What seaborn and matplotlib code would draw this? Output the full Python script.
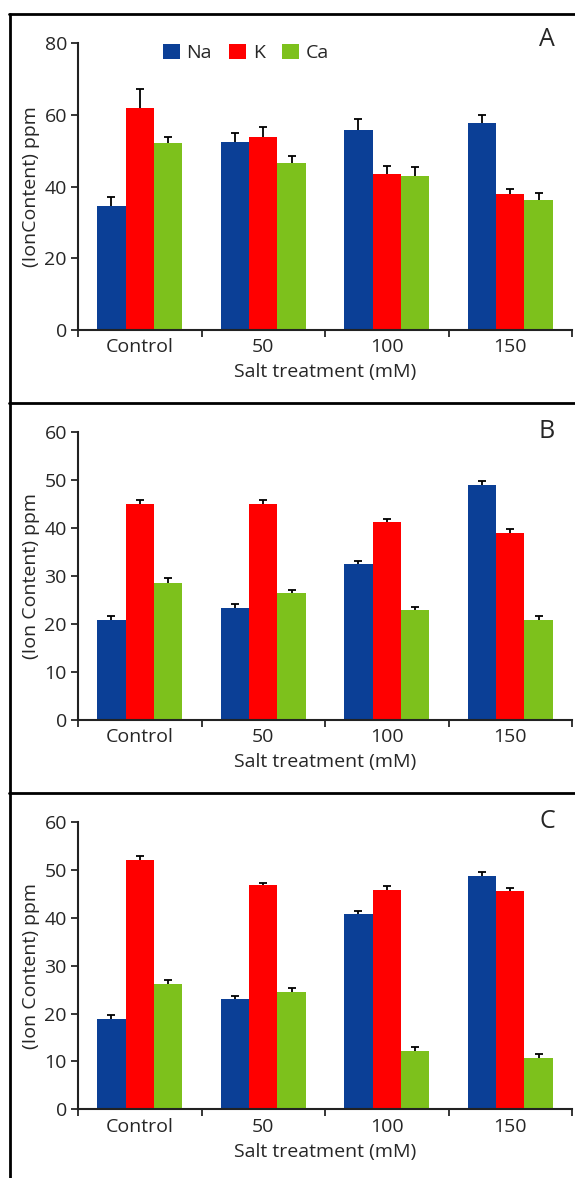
"""
Ion content (Na, K, Ca) under salt treatment, three panels A/B/C.
"""

import numpy as np
import pandas as pd
import matplotlib.pyplot as plt
from matplotlib.lines import Line2D
from matplotlib.patches import Patch
import seaborn as sns

treatments = ["Control", "50", "100", "150"]
ions = ["Na", "K", "Ca"]

# panel A
a_na = [34.7, 52.4, 55.7, 57.8]
a_k = [62.0, 53.8, 43.6, 37.8]
a_ca = [52.2, 46.5, 43.0, 36.3]
a_na_err = [2.5, 2.6, 3.0, 2.0]
a_k_err = [5.2, 2.9, 2.2, 1.4]
a_ca_err = [1.7, 2.1, 2.5, 2.0]

# panel B
b_na = [20.9, 23.4, 32.4, 49.0]
b_k = [44.9, 44.9, 41.2, 39.0]
b_ca = [28.6, 26.4, 22.9, 20.9]
b_na_err = [0.8, 0.7, 0.7, 0.7]
b_k_err = [0.9, 0.8, 0.7, 0.7]
b_ca_err = [0.9, 0.6, 0.6, 0.7]

# panel C
c_na = [18.8, 23.0, 40.8, 48.7]
c_k = [52.1, 46.8, 45.8, 45.6]
c_ca = [26.1, 24.4, 12.2, 10.7]
c_na_err = [0.8, 0.7, 0.7, 0.9]
c_k_err = [0.8, 0.5, 0.8, 0.7]
c_ca_err = [0.8, 0.9, 0.8, 0.8]

colors = ["#0b3f96", "#ff0000", "#7dc11c"]

sns.set_style("white")
plt.rcParams["font.family"] = ["Open Sans", "DejaVu Sans"]

W, H = 575, 1178
fig = plt.figure(figsize=(W / 100, H / 100), dpi=100)

# axes boxes in pixels: (left, right, y of 0, y of top)
panels = [
    ("A", (a_na, a_k, a_ca), (a_na_err, a_k_err, a_ca_err), 80, 20,
     "(IonContent) ppm", (78, 572, 330, 43)),
    ("B", (b_na, b_k, b_ca), (b_na_err, b_k_err, b_ca_err), 60, 10,
     "(Ion Content) ppm", (78, 572, 720, 431.7)),
    ("C", (c_na, c_k, c_ca), (c_na_err, c_k_err, c_ca_err), 60, 10,
     "(Ion Content) ppm", (78, 572, 1109.3, 822)),
]

fs = 14
for letter, vals, errs, ymax, ystep, ylabel, (l, r, b, t) in panels:
    ax = fig.add_axes([l / W, 1 - b / H, (r - l) / W, (b - t) / H])
    df = pd.DataFrame({
        "treatment": treatments * 3,
        "ion": np.repeat(ions, 4),
        "value": np.concatenate(vals),
    })
    sns.barplot(data=df, x="treatment", y="value", hue="ion",
                order=treatments, hue_order=ions, palette=colors,
                width=0.69, saturation=1, errorbar=None, legend=False,
                linewidth=0, ax=ax)
    # upper-only error bars
    for cont, e in zip(ax.containers, errs):
        xs = [p.get_x() + p.get_width() / 2 for p in cont]
        hs = [p.get_height() for p in cont]
        _, caps, _ = ax.errorbar(xs, hs, yerr=[np.zeros(len(e)), e], fmt="none",
                                 ecolor="black", elinewidth=1.3, capsize=3,
                                 capthick=1.3)
        caps[0].remove()

    ax.set_xlim(-0.5, 3.5)
    ax.set_ylim(0, ymax)
    ax.set_yticks(np.arange(0, ymax + 1, ystep))
    ax.set_xticks([-0.5, 0.5, 1.5, 2.5, 3.5])
    ax.set_xticklabels([])
    ax.set_xticks(range(4), minor=True)
    ax.set_xticklabels(treatments, minor=True, fontsize=fs)
    ax.tick_params(axis="x", which="major", direction="out", length=5,
                   width=1.3, bottom=True)
    ax.tick_params(axis="x", which="minor", length=0, pad=6)
    ax.tick_params(axis="y", direction="out", length=5, width=1.3,
                   left=True, pad=3, labelsize=fs)
    for s in ["top", "right"]:
        ax.spines[s].set_visible(False)
    for s in ["left", "bottom"]:
        ax.spines[s].set_color("#222222")
        ax.spines[s].set_linewidth(1.5)
    ax.set_facecolor("none")

    ax.set_xlabel("Salt treatment (mM)", fontsize=fs, labelpad=5)
    ax.set_ylabel(ylabel, fontsize=fs)
    ax.yaxis.set_label_coords(-38 / (r - l), 0.5)
    ty = 1 + 4 / (b - t) if letter == "A" else 1.0
    ax.text((547 - l) / (r - l), ty, letter, transform=ax.transAxes,
            ha="center", va="center", fontsize=18)

    if letter == "A":
        handles = [Patch(facecolor=c, edgecolor="none") for c in colors]
        ax.legend(handles, ions, loc="center left",
                  bbox_to_anchor=((163 - l) / (r - l), (b - 53) / (b - t)),
                  ncol=3, frameon=False, fontsize=fs, borderpad=0,
                  borderaxespad=0, handlelength=0.85, handleheight=0.8,
                  handletextpad=0.35, columnspacing=0.9)

# panel frames
lw = 2
fig.add_artist(Line2D([9.5 / W, 9.5 / W], [1 - 14 / H, 0], color="black", lw=lw))
for yy in [14, 403, 793]:
    fig.add_artist(Line2D([9 / W, 1], [1 - yy / H, 1 - yy / H], color="black", lw=lw))

plt.savefig("out.png", dpi=100)
